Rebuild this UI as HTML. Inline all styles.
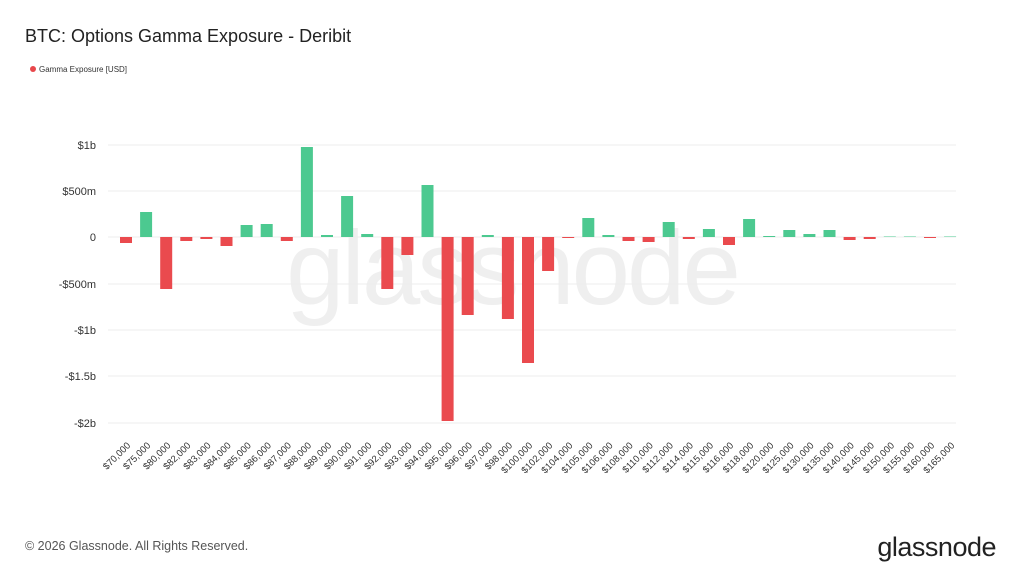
<!DOCTYPE html>
<html><head><meta charset="utf-8"><style>
body{margin:0;width:1024px;height:576px;background:#fff;font-family:"Liberation Sans",sans-serif;overflow:hidden}
</style></head><body>
<svg width="1024" height="576" xmlns="http://www.w3.org/2000/svg" font-family="Liberation Sans, sans-serif">
<text x="25" y="42" font-size="18" fill="#222">BTC: Options Gamma Exposure - Deribit</text>
<circle cx="33" cy="69" r="3" fill="#e8474b"/>
<text x="39" y="72" font-size="8" fill="#333">Gamma Exposure [USD]</text>
<text x="512" y="304" font-size="105" fill="#efefef" text-anchor="middle" letter-spacing="-3">glassnode</text>
<g stroke="#ececec" stroke-width="1">
<line x1="108" x2="956" y1="145" y2="145"/><line x1="108" x2="956" y1="191" y2="191"/><line x1="108" x2="956" y1="237" y2="237"/><line x1="108" x2="956" y1="284" y2="284"/><line x1="108" x2="956" y1="330" y2="330"/><line x1="108" x2="956" y1="376" y2="376"/><line x1="108" x2="956" y1="423" y2="423"/>
</g>
<g font-size="11" fill="#333" text-anchor="end">
<text x="96" y="149">$1b</text><text x="96" y="195">$500m</text><text x="96" y="241">0</text><text x="96" y="288">-$500m</text><text x="96" y="334">-$1b</text><text x="96" y="380">-$1.5b</text><text x="96" y="427">-$2b</text>
</g>
<g>
<rect x="120" y="237" width="12" height="6" fill="#ea4a4e"/>
<rect x="140.1" y="212" width="12" height="25" fill="#4cc990"/>
<rect x="160.2" y="237" width="12" height="52" fill="#ea4a4e"/>
<rect x="180.3" y="237" width="12" height="4" fill="#ea4a4e"/>
<rect x="200.4" y="237" width="12" height="2" fill="#ea4a4e"/>
<rect x="220.5" y="237" width="12" height="9" fill="#ea4a4e"/>
<rect x="240.6" y="225" width="12" height="12" fill="#4cc990"/>
<rect x="260.7" y="224" width="12" height="13" fill="#4cc990"/>
<rect x="280.8" y="237" width="12" height="4" fill="#ea4a4e"/>
<rect x="300.9" y="147" width="12" height="90" fill="#4cc990"/>
<rect x="321" y="235" width="12" height="2" fill="#4cc990"/>
<rect x="341.1" y="196" width="12" height="41" fill="#4cc990"/>
<rect x="361.2" y="234" width="12" height="3" fill="#4cc990"/>
<rect x="381.3" y="237" width="12" height="52" fill="#ea4a4e"/>
<rect x="401.4" y="237" width="12" height="18" fill="#ea4a4e"/>
<rect x="421.5" y="185" width="12" height="52" fill="#4cc990"/>
<rect x="441.6" y="237" width="12" height="184" fill="#ea4a4e"/>
<rect x="461.7" y="237" width="12" height="78" fill="#ea4a4e"/>
<rect x="481.8" y="235" width="12" height="2" fill="#4cc990"/>
<rect x="501.9" y="237" width="12" height="82" fill="#ea4a4e"/>
<rect x="522" y="237" width="12" height="126" fill="#ea4a4e"/>
<rect x="542.1" y="237" width="12" height="34" fill="#ea4a4e"/>
<rect x="562.2" y="237" width="12" height="1" fill="#ea4a4e"/>
<rect x="582.3" y="218" width="12" height="19" fill="#4cc990"/>
<rect x="602.4" y="235" width="12" height="2" fill="#4cc990"/>
<rect x="622.5" y="237" width="12" height="4" fill="#ea4a4e"/>
<rect x="642.6" y="237" width="12" height="5" fill="#ea4a4e"/>
<rect x="662.7" y="222" width="12" height="15" fill="#4cc990"/>
<rect x="682.8" y="237" width="12" height="2" fill="#ea4a4e"/>
<rect x="702.9" y="229" width="12" height="8" fill="#4cc990"/>
<rect x="723" y="237" width="12" height="8" fill="#ea4a4e"/>
<rect x="743.1" y="219" width="12" height="18" fill="#4cc990"/>
<rect x="763.2" y="236" width="12" height="1" fill="#4cc990"/>
<rect x="783.3" y="230" width="12" height="7" fill="#4cc990"/>
<rect x="803.4" y="234" width="12" height="3" fill="#4cc990"/>
<rect x="823.5" y="230" width="12" height="7" fill="#4cc990"/>
<rect x="843.6" y="237" width="12" height="3" fill="#ea4a4e"/>
<rect x="863.7" y="237" width="12" height="2" fill="#ea4a4e"/>
<rect x="883.8" y="236.5" width="12" height="0.5" fill="#4cc990"/>
<rect x="903.9" y="236.5" width="12" height="0.5" fill="#4cc990"/>
<rect x="924" y="237" width="12" height="1" fill="#ea4a4e"/>
<rect x="944.1" y="236.5" width="12" height="0.5" fill="#4cc990"/>
</g>
<g font-size="9.5" fill="#333" text-anchor="end">
<text transform="translate(131,446) rotate(-45)">$70,000</text>
<text transform="translate(151.1,446) rotate(-45)">$75,000</text>
<text transform="translate(171.2,446) rotate(-45)">$80,000</text>
<text transform="translate(191.3,446) rotate(-45)">$82,000</text>
<text transform="translate(211.4,446) rotate(-45)">$83,000</text>
<text transform="translate(231.5,446) rotate(-45)">$84,000</text>
<text transform="translate(251.6,446) rotate(-45)">$85,000</text>
<text transform="translate(271.7,446) rotate(-45)">$86,000</text>
<text transform="translate(291.8,446) rotate(-45)">$87,000</text>
<text transform="translate(311.9,446) rotate(-45)">$88,000</text>
<text transform="translate(332,446) rotate(-45)">$89,000</text>
<text transform="translate(352.1,446) rotate(-45)">$90,000</text>
<text transform="translate(372.2,446) rotate(-45)">$91,000</text>
<text transform="translate(392.3,446) rotate(-45)">$92,000</text>
<text transform="translate(412.4,446) rotate(-45)">$93,000</text>
<text transform="translate(432.5,446) rotate(-45)">$94,000</text>
<text transform="translate(452.6,446) rotate(-45)">$95,000</text>
<text transform="translate(472.7,446) rotate(-45)">$96,000</text>
<text transform="translate(492.8,446) rotate(-45)">$97,000</text>
<text transform="translate(512.9,446) rotate(-45)">$98,000</text>
<text transform="translate(533,446) rotate(-45)">$100,000</text>
<text transform="translate(553.1,446) rotate(-45)">$102,000</text>
<text transform="translate(573.2,446) rotate(-45)">$104,000</text>
<text transform="translate(593.3,446) rotate(-45)">$105,000</text>
<text transform="translate(613.4,446) rotate(-45)">$106,000</text>
<text transform="translate(633.5,446) rotate(-45)">$108,000</text>
<text transform="translate(653.6,446) rotate(-45)">$110,000</text>
<text transform="translate(673.7,446) rotate(-45)">$112,000</text>
<text transform="translate(693.8,446) rotate(-45)">$114,000</text>
<text transform="translate(713.9,446) rotate(-45)">$115,000</text>
<text transform="translate(734,446) rotate(-45)">$116,000</text>
<text transform="translate(754.1,446) rotate(-45)">$118,000</text>
<text transform="translate(774.2,446) rotate(-45)">$120,000</text>
<text transform="translate(794.3,446) rotate(-45)">$125,000</text>
<text transform="translate(814.4,446) rotate(-45)">$130,000</text>
<text transform="translate(834.5,446) rotate(-45)">$135,000</text>
<text transform="translate(854.6,446) rotate(-45)">$140,000</text>
<text transform="translate(874.7,446) rotate(-45)">$145,000</text>
<text transform="translate(894.8,446) rotate(-45)">$150,000</text>
<text transform="translate(914.9,446) rotate(-45)">$155,000</text>
<text transform="translate(935,446) rotate(-45)">$160,000</text>
<text transform="translate(955.1,446) rotate(-45)">$165,000</text>
</g>
<text x="25" y="550" font-size="12.5" fill="#555">© 2026 Glassnode. All Rights Reserved.</text>
<text x="996" y="556" font-size="27" fill="#222" text-anchor="end" letter-spacing="-0.5">glassnode</text>
</svg>
</body></html>
